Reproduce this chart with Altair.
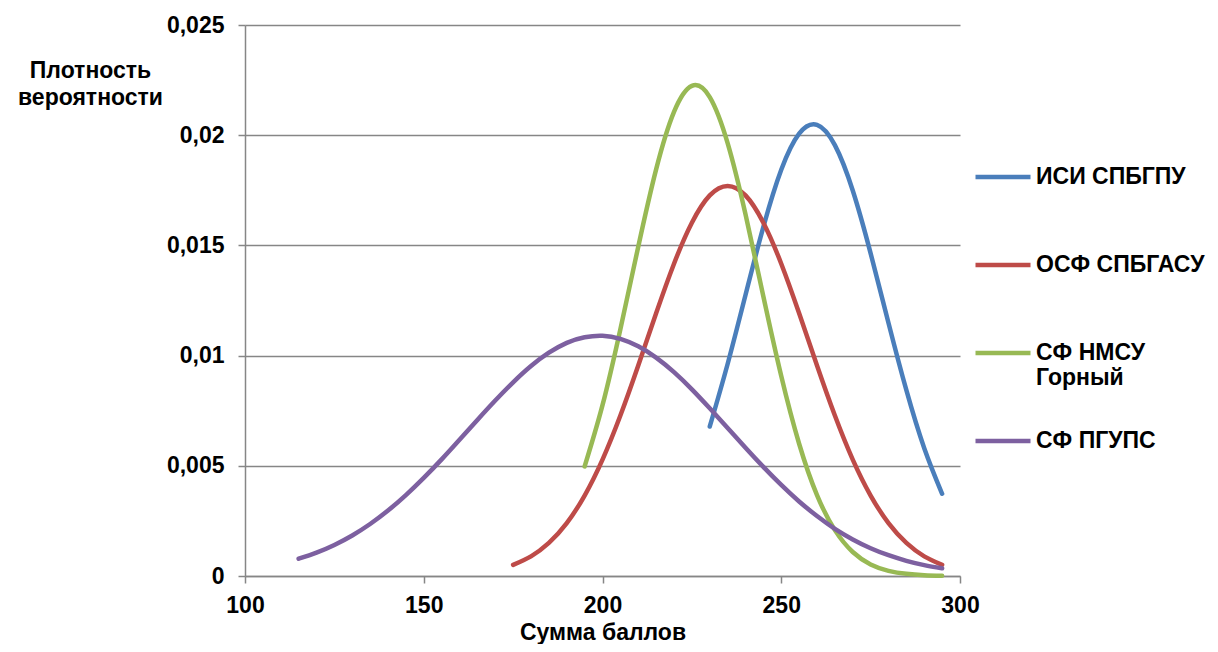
import altair as alt
import pandas as pd

series_names = ["ИСИ СПБГПУ", "ОСФ СПБГАСУ", "СФ НМСУ Горный", "СФ ПГУПС"]
series_colors = ["#4A7EBB", "#BE4B48", "#98B954", "#7D60A0"]

# ИСИ СПБГПУ
x_isi = [230, 235, 240, 245, 250, 255, 260, 265, 270, 275, 280, 285, 290, 295]
y_isi = [0.00678, 0.00962, 0.01275, 0.01584, 0.01843, 0.02007, 0.02047, 0.01955,
         0.01749, 0.01464, 0.01148, 0.00843, 0.00580, 0.00373]

# ОСФ СПБГАСУ
x_osf = [175, 180, 185, 190, 195, 200, 205, 210, 215, 220, 225, 230, 235,
         240, 245, 250, 255, 260, 265, 270, 275, 280, 285, 290, 295]
y_osf = [0.000506, 0.000892, 0.00150, 0.00240, 0.00365, 0.00528, 0.00728, 0.00955,
         0.01192, 0.01417, 0.01603, 0.01727, 0.0177, 0.01727, 0.01603, 0.01417,
         0.01192, 0.00955, 0.00728, 0.00528, 0.00365, 0.00240, 0.00150, 0.000892, 0.000506]

# СФ НМСУ Горный
x_nmsu = [195, 200, 205, 210, 215, 220, 225, 230, 235, 240, 245, 250, 255,
          260, 265, 270, 275, 280, 285, 290, 295]
y_nmsu = [0.00497, 0.00775, 0.01120, 0.01494, 0.01845, 0.02106, 0.02224, 0.02173,
          0.01964, 0.01641, 0.01268, 0.00907, 0.00600, 0.00367, 0.00208, 0.00109,
          0.000526, 0.000235, 0.0000974, 0.0000373, 0.0000132]

# СФ ПГУПС
x_pgups = [115, 120, 125, 130, 135, 140, 145, 150, 155, 160, 165, 170, 175,
           180, 185, 190, 195, 200, 205, 210, 215, 220, 225, 230, 235, 240,
           245, 250, 255, 260, 265, 270, 275, 280, 285, 290, 295]
y_pgups = [0.000783, 0.00106, 0.00141, 0.00184, 0.00236, 0.00297, 0.00367, 0.00445,
           0.00529, 0.00618, 0.00708, 0.00796, 0.00879, 0.00953, 0.01013, 0.01058,
           0.01083, 0.0109, 0.01076, 0.01042, 0.00991, 0.00925, 0.00847, 0.00761,
           0.00672, 0.00582, 0.00495, 0.00413, 0.00338, 0.00272, 0.00214, 0.00166,
           0.00126, 0.000942, 0.000689, 0.000495, 0.000349]

x_ticks = [100, 150, 200, 250, 300]
y_ticks = [0, 0.005, 0.01, 0.015, 0.02, 0.025]

rows = []
for i, (xs, ys) in enumerate([(x_isi, y_isi), (x_osf, y_osf), (x_nmsu, y_nmsu), (x_pgups, y_pgups)]):
    for xv, yv in zip(xs, ys):
        rows.append({"series": series_names[i], "order": i, "x": xv, "y": yv})
df = pd.DataFrame(rows)

FONT = "Liberation Sans"
GRAY = "#868686"
FS = 23

label_expr = (
    "datum.label == 'СФ НМСУ Горный' ? ['\u00a0СФ НМСУ', 'Горный'] : "
    "(datum.label == 'ИСИ СПБГПУ' ? [datum.label, '\u00a0'] : ['\u00a0' + datum.label, '\u00a0'])"
)

chart = alt.Chart(df).mark_line(strokeWidth=4.5, interpolate="natural", strokeCap="round").encode(
    x=alt.X("x:Q", scale=alt.Scale(domain=[100, 300], nice=False, zero=False),
            axis=alt.Axis(values=x_ticks, title="Сумма баллов", grid=False,
                          labelFlush=False, labelOverlap=False, labelPadding=11,
                          titlePadding=4)),
    y=alt.Y("y:Q", scale=alt.Scale(domain=[0, 0.025], nice=False),
            axis=alt.Axis(values=y_ticks, grid=True,
                          labelExpr="replace(format(datum.value, '.3~f'), '.', ',')",
                          labelPadding=14,
                          title=["Плотность", "вероятности"], titleAngle=0,
                          titleAlign="center", titleBaseline="top",
                          titleX=-155, titleY=34, titleLineHeight=27)),
    color=alt.Color("series:N",
                    scale=alt.Scale(domain=series_names, range=series_colors),
                    legend=alt.Legend(title=None, orient="none", legendX=728, legendY=122,
                                      symbolType="stroke", symbolSize=3025,
                                      symbolStrokeWidth=4.5, labelExpr=label_expr,
                                      labelFont=FONT, labelFontSize=FS,
                                      labelFontWeight="bold", labelColor="black",
                                      labelOffset=3, rowPadding=21, padding=0,
                                      labelLimit=0)),
    order=alt.Order("order:Q"),
).properties(
    width=715, height=551,
    autosize=alt.AutoSizeParams(type="none"),
    padding={"left": 237, "top": 17, "right": 250, "bottom": 68},
).configure_view(stroke=None).configure_axis(
    domainColor=GRAY, domainWidth=1.5, tickColor=GRAY, tickWidth=1.5, tickSize=7,
    gridColor=GRAY, gridWidth=1.5,
    labelFont=FONT, labelFontSize=FS, labelFontWeight="bold", labelColor="black",
    titleFont=FONT, titleFontSize=FS, titleFontWeight="bold", titleColor="black",
)

chart.save("out.html", embed_options={"renderer": "svg", "actions": False})
